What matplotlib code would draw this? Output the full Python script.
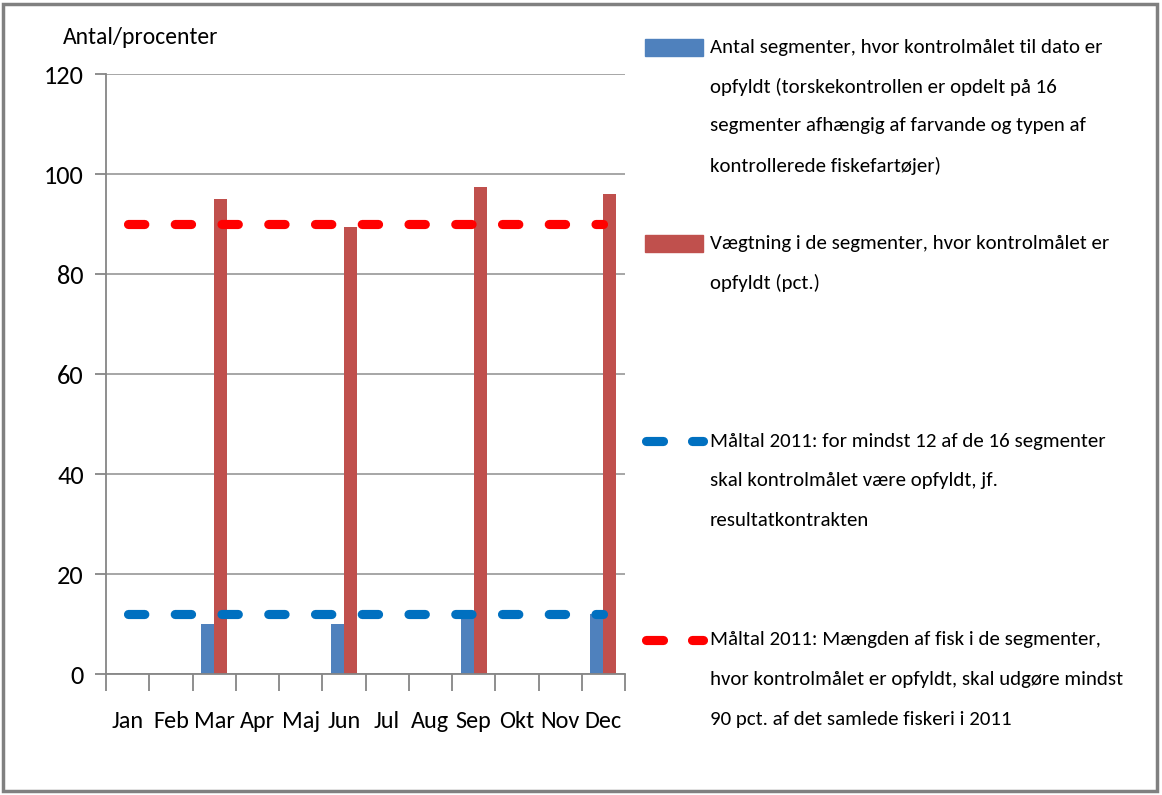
import numpy as np
import matplotlib
matplotlib.use('Agg')
from matplotlib import pyplot as plt
from matplotlib.patches import Rectangle

plt.rcParams['font.family'] = ['Carlito', 'DejaVu Sans']

# data
months = ['Jan', 'Feb', 'Mar', 'Apr', 'Maj', 'Jun', 'Jul', 'Aug', 'Sep', 'Okt', 'Nov', 'Dec']
antal_segmenter = [0, 0, 10, 0, 0, 10, 0, 0, 12, 0, 0, 12]
vaegtning_pct = [0, 0, 95, 0, 0, 89.5, 0, 0, 97.5, 0, 0, 96]
maal_antal = 12
maal_pct = 90

labels = [
    'Antal segmenter, hvor kontrolmålet til dato er\nopfyldt (torskekontrollen er opdelt på 16\n'
    'segmenter afhængig af farvande og typen af\nkontrollerede fiskefartøjer)',
    'Vægtning i de segmenter, hvor kontrolmålet er\nopfyldt (pct.)',
    'Måltal 2011: for mindst 12 af de 16 segmenter\nskal kontrolmålet være opfyldt, jf.\nresultatkontrakten',
    'Måltal 2011: Mængden af fisk i de segmenter,\nhvor kontrolmålet er opfyldt, skal udgøre mindst\n'
    '90 pct. af det samlede fiskeri i 2011',
]

BLUE_BAR = '#4F81BD'
RED_BAR = '#C0504D'
BLUE_LINE = '#0070C0'
RED_LINE = '#FF0000'
GRID = '#A6A6A6'
SPINE = '#868686'

W, H = 1162, 795
fig = plt.figure(figsize=(W / 100, H / 100), dpi=100)

# overlay in pixel coords for the legend and frame
ov = fig.add_axes([0, 0, 1, 1])
ov.set_xlim(0, W)
ov.set_ylim(H, 0)
ov.axis('off')

ax = fig.add_axes([106 / W, 1 - 674 / H, (625 - 106) / W, (674 - 74) / H])
x = np.arange(len(months))
bw = 0.3
ax.bar(x - bw / 2, antal_segmenter, bw, color=BLUE_BAR, zorder=2)
ax.bar(x + bw / 2, vaegtning_pct, bw, color=RED_BAR, zorder=2)

lw = 6.6
dash = (0, (1.78, 3.32))
ax.plot(x, [maal_antal] * len(x), color=BLUE_LINE, lw=lw, linestyle=dash,
        dash_capstyle='round', zorder=3)
ax.plot(x, [maal_pct] * len(x), color=RED_LINE, lw=lw, linestyle=dash,
        dash_capstyle='round', zorder=3)

ax.set_xlim(-0.5, len(months) - 0.5)
ax.set_ylim(0, 120)
ax.set_yticks(range(0, 121, 20))
ax.yaxis.grid(True, color=GRID, lw=1.4, zorder=0)
ax.set_axisbelow(True)
ax.set_xticks(x)
ax.set_xticklabels(months, fontsize=17.5)
ax.set_xticks(np.arange(-0.5, len(months)), minor=True)
ax.tick_params(axis='x', which='major', length=0, pad=27)
ax.tick_params(axis='x', which='minor', length=12, width=1.3, color=SPINE, direction='out')
ax.tick_params(axis='y', length=8, width=1.3, color=SPINE, labelsize=19, pad=8)
for s in ['top', 'right']:
    ax.spines[s].set_visible(False)
for s in ['left', 'bottom']:
    ax.spines[s].set_color(SPINE)
    ax.spines[s].set_linewidth(1.3)

ov.text(141, 37, 'Antal/procenter', fontsize=17, ha='center', va='center')

# legend drawn by hand
entry_top = [47, 243, 441, 640]
line_gap = 39.5
txt_x = 710
handles = ['bar_b', 'bar_r', 'line_b', 'line_r']
for top, lab, h in zip(entry_top, labels, handles):
    for k, ln in enumerate(lab.split('\n')):
        ov.text(txt_x, top + k * line_gap, ln, fontsize=15, ha='left', va='center')
    if h.startswith('bar'):
        ov.add_patch(Rectangle((645, top - 8), 58, 17,
                               color=BLUE_BAR if h == 'bar_b' else RED_BAR))
    else:
        ov.plot([646, 663], [top, top], color=BLUE_LINE if h == 'line_b' else RED_LINE,
                lw=lw, solid_capstyle='round')
        ov.plot([692, 703], [top, top], color=BLUE_LINE if h == 'line_b' else RED_LINE,
                lw=lw, solid_capstyle='round')

ov.add_patch(Rectangle((3, 4), 1154, 787, fill=False, edgecolor='#808080', lw=2.5))

fig.savefig('out.png', dpi=100)
